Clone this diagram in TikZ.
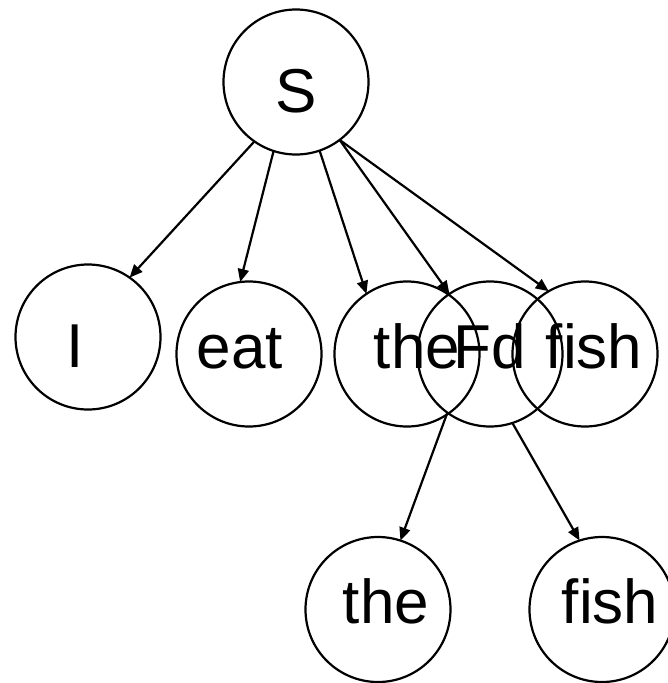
\documentclass[tikz,border=0pt]{standalone}
\usepackage{fontspec}
\setmainfont{Liberation Sans}
\usepackage{tikz}
\usetikzlibrary{arrows.meta}

\begin{document}
\begin{tikzpicture}[x=1pt, y=-1pt,
    word/.style={draw, circle, line width=2.2pt, minimum size=145pt, inner sep=0pt, outer sep=0pt,
        font=\fontsize{62}{62}\selectfont, text height=44pt, text depth=16pt},
    capword/.style={word, text height=60pt, text depth=0pt},
    push right/.style={execute at begin node={\hspace*{#1}}},
    push left/.style={execute at end node={\hspace*{#1}}},
    edge/.style={line width=2.2pt, -{Triangle[length=13pt, width=11pt]}}]
    \useasboundingbox (0,0) rectangle (668,683);

    % Root
    \node[capword] (S) at (296,82) {S};

    % Middle row
    \node[capword, push left=25pt] (I) at (88,337) {I};
    \node[word, push left=18pt] (eat) at (249,354) {eat};
    \node[word, push right=20pt] (the) at (407,354) {the};
    \node[word] (Fd) at (490,354) {Fd};
    \node[word, push right=18pt] (fish) at (585,354) {fish};

    % Bottom row
    \node[word, push right=16pt] (the2) at (378,609.5) {the};
    \node[word, push right=16pt] (fish2) at (602,609.5) {fish};

    % Edges
    \draw[edge] (S.235) -- (I.55);
    \draw[edge] (S.252) -- (eat.97);
    \draw[edge] (S.289) -- (the.124);
    \draw[edge] (S.307) -- (Fd.124);
    \draw[edge] (S.307) -- (fish.120);
    \draw[edge] (Fd.234) -- (the2.72);
    \draw[edge] (Fd.288) -- (fish2.108);
\end{tikzpicture}
\end{document}
